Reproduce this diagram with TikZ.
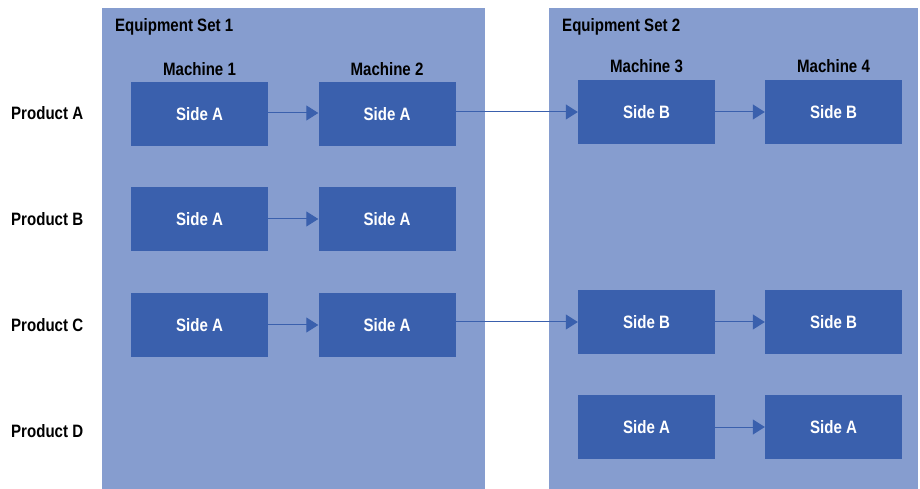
\documentclass[tikz,border=0pt]{standalone}
\usepackage{fontspec}
\setmainfont{Liberation Sans}[FakeStretch=0.84]
\usetikzlibrary{arrows.meta}
\definecolor{panelc}{HTML}{869DCF}
\definecolor{boxc}{HTML}{3A60AD}
\begin{document}
\begin{tikzpicture}[x=1bp,y=-1bp,
  panel/.style={fill=panelc,draw=none},
  sidebox/.style={fill=boxc,draw=none,minimum width=137bp,minimum height=64bp,inner sep=0,text=white,font=\fontsize{18}{18}\selectfont\bfseries},
  lbl/.style={font=\fontsize{18}{18}\selectfont\bfseries,inner sep=0},
  flow/.style={draw=boxc,line width=1bp,-{Triangle[length=12bp,width=15bp]}}]
\useasboundingbox (0,0) rectangle (920,489);
\fill[white] (0,0) rectangle (920,489);
\fill[panel] (102,8) rectangle (485,489);
\fill[panel] (549,8) rectangle (918,489);
\node[lbl,anchor=west] (es1) at (115,27) {Equipment Set 1};
\node[lbl,anchor=west] (es2) at (562,27) {Equipment Set 2};
\node[lbl] (m1) at (199.5,69) {Machine 1};
\node[lbl] (m2) at (387,69) {Machine 2};
\node[lbl] (m3) at (646.5,66) {Machine 3};
\node[lbl] (m4) at (833.5,66) {Machine 4};
\node[lbl,anchor=west] (pa) at (11,113) {Product A};
\node[lbl,anchor=west] (pb) at (11,219) {Product B};
\node[lbl,anchor=west] (pc) at (11,325) {Product C};
\node[lbl,anchor=west] (pd) at (11,431) {Product D};
% set 1
\node[sidebox] (a1) at (199.5,114) {Side A};
\node[sidebox] (a2) at (387,114) {Side A};
\node[sidebox] (b1) at (199.5,219) {Side A};
\node[sidebox] (b2) at (387,219) {Side A};
\node[sidebox] (c1) at (199.5,325) {Side A};
\node[sidebox] (c2) at (387,325) {Side A};
% set 2
\node[sidebox] (a3) at (646.5,112) {Side B};
\node[sidebox] (a4) at (833.5,112) {Side B};
\node[sidebox] (c3) at (646.5,322) {Side B};
\node[sidebox] (c4) at (833.5,322) {Side B};
\node[sidebox] (d3) at (646.5,427) {Side A};
\node[sidebox] (d4) at (833.5,427) {Side A};
% arrows
\draw[flow] (a1.east |- 0,113) -- (a2.west |- 0,113);
\draw[flow] (a2.east |- 0,112) -- (a3.west |- 0,112);
\draw[flow] (a3) -- (a4);
\draw[flow] (b1) -- (b2);
\draw[flow] (c1) -- (c2);
\draw[flow] (c2.east |- 0,322) -- (c3.west);
\draw[flow] (c3) -- (c4);
\draw[flow] (d3) -- (d4);
\end{tikzpicture}
\end{document}
